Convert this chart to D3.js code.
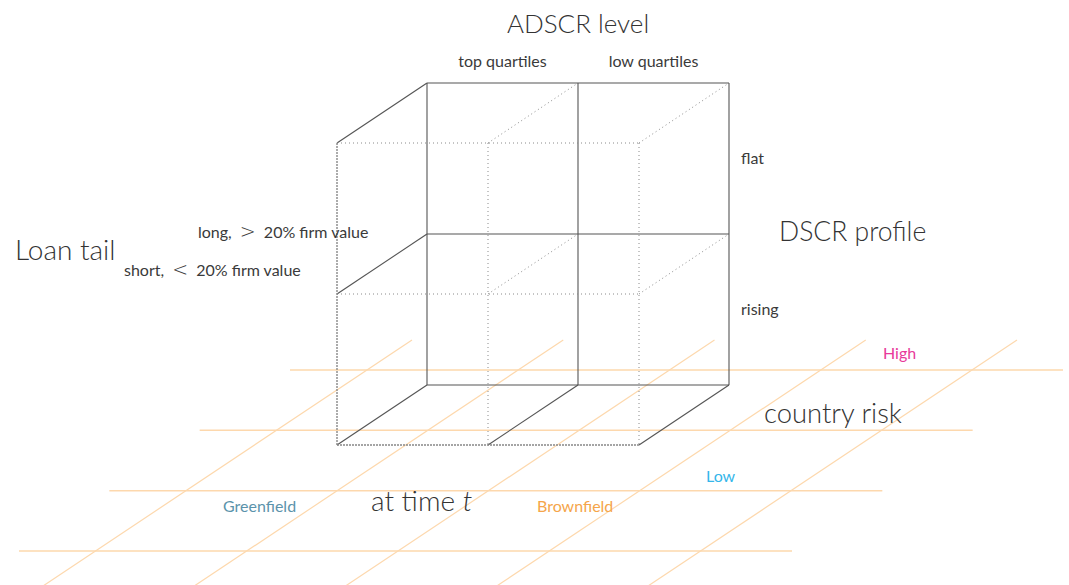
<!DOCTYPE html>
<html><head><meta charset="utf-8">
<script src="https://cdn.jsdelivr.net/npm/d3@7"></script>
<style>body{margin:0;background:#fff}svg{display:block}text{font-family:Lato,"Open Sans",sans-serif;font-weight:300;fill:#333}</style>
</head><body><svg id="c" width="1069" height="585"></svg>
<script>
// ---- data ----
const adscrLevels = ["top quartiles", "low quartiles"];
const dscrProfiles = ["flat", "rising"];
const loanTails = [["long, ", ">", " 20% firm value"], ["short, ", "<", " 20% firm value"]];
const countryRisk = ["High", "Low"];
const projectStage = ["Greenfield", "Brownfield"];
const axisTitles = ["ADSCR level", "DSCR profile", "Loan tail", "country risk"];
const floorRows = [0, 1, 2, 3];
const floorCols = [0, 1, 2, 3, 4];

const svg = d3.select("#c");
// scales for the cube
const x = d3.scaleLinear().domain([0, 2]).range([337, 639]);
const y = d3.scaleLinear().domain([0, 2]).range([143, 445]);
const dx = d3.scaleLinear().domain([0, 1]).range([0, 90]);
const dy = d3.scaleLinear().domain([0, 1]).range([0, -60]);
const P = (i, j, k) => [x(i) + dx(k), y(j) + dy(k)];

// floor grid scales
const fy = d3.scaleLinear().domain([0, 3]).range([370, 551]);
const fx0 = d3.scaleLinear().domain([0, 3]).range([290, 19]);
const colTop = d3.scaleLinear().domain([0, 4]).range([412, 1017]);
const floorLen = 773;

const orange = "#fdd8ad";
const g0 = svg.append("g");
g0.selectAll("line.h").data(floorRows).join("line")
  .attr("x1", d => fx0(d)).attr("x2", d => fx0(d) + floorLen)
  .attr("y1", d => fy(d)).attr("y2", d => fy(d))
  .attr("stroke", orange).attr("stroke-width", 1.5);
g0.selectAll("line.d").data(floorCols).join("line")
  .attr("x1", d => colTop(d)).attr("y1", 340)
  .attr("x2", d => colTop(d) - 1.5 * 260).attr("y2", 600)
  .attr("stroke", orange).attr("stroke-width", 1.2);

// cube
const segs = [];
const solid = (a, b) => segs.push({a, b, t: "s"});
const dot = (a, b) => segs.push({a, b, t: "d"});
const grey = (a, b) => segs.push({a, b, t: "g"});
[0, 1, 2].forEach(j => solid(P(0, j, 1), P(2, j, 1)));
[0, 1, 2].forEach(i => solid(P(i, 0, 1), P(i, 2, 1)));
[0, 1, 2].forEach(j => solid(P(0, j, 0), P(0, j, 1)));
[1, 2].forEach(i => solid(P(i, 2, 0), P(i, 2, 1)));
[1, 2].forEach(i => [0, 1].forEach(j => dot(P(i, j, 0), P(i, j, 1))));
[0, 1].forEach(j => dot(P(0, j, 0), P(2, j, 0)));
[1, 2].forEach(i => dot(P(i, 0, 0), P(i, 2, 0)));
grey(P(0, 0, 0), P(0, 2, 0));
grey(P(0, 2, 0), P(2, 2, 0));

svg.append("g").selectAll("line").data(segs).join("line")
  .attr("x1", d => d.a[0]).attr("y1", d => d.a[1])
  .attr("x2", d => d.b[0]).attr("y2", d => d.b[1])
  .attr("stroke", d => d.t === "s" ? "#555" : d.t === "d" ? "#8a8a8a" : "#888")
  .attr("stroke-width", d => d.t === "s" ? 1.1 : d.t === "d" ? 1 : 1.4)
  .attr("stroke-dasharray", d => d.t === "s" ? null : d.t === "d" ? "1,3" : "2,1");

// labels
const T = (txt, px, py, size, anchor, color, weight) => svg.append("text").text(txt)
  .attr("x", px).attr("y", py).attr("font-size", size)
  .attr("text-anchor", anchor || "start").style("fill", color || "#333")
  .style("font-weight", weight || 300);

T(axisTitles[0], (x(1) + dx(1)), 33, 26, "middle");
adscrLevels.forEach((l, i) => T(l, x(i + 0.5) + dx(1), 67, 16, "middle", "#3a3a3a", 400));
dscrProfiles.forEach((l, j) => T(l, x(2) + dx(1) + 12, y(j + 0.5) + dy(1) + 5, 16, "start", "#3a3a3a", 400));
T(axisTitles[1], 779, 241, 26.5);
T(axisTitles[2], 15, 260, 28);
const ltPos = [[198, 238], [124, 276]];
loanTails.forEach((parts, i) => {
  const t = svg.append("text").attr("x", ltPos[i][0]).attr("y", ltPos[i][1])
    .attr("font-size", 16).style("font-weight", 400).style("fill", "#3a3a3a");
  t.append("tspan").text(parts[0]);
  t.append("tspan").text(parts[1]).style("font-family", "DejaVu Sans").style("font-weight", 300).attr("font-size", 19).attr("dx", 4);
  t.append("tspan").text(parts[2]).attr("dx", 4);
});
T(countryRisk[0], 883, 359, 16, "start", "#e8399a", 400);
T(axisTitles[3], 764, 423, 27.4);
T(countryRisk[1], 706, 482, 16, "start", "#35b6ea", 400);
T(projectStage[0], 223, 512, 16, "start", "#5b93ab", 400);
T(projectStage[1], 537, 512, 16, "start", "#f5a54a", 400);
const at = svg.append("text").attr("x", 371).attr("y", 511).attr("font-size", 28);
at.append("tspan").text("at time ");
at.append("tspan").text("t").style("font-style", "italic");
</script></body></html>
